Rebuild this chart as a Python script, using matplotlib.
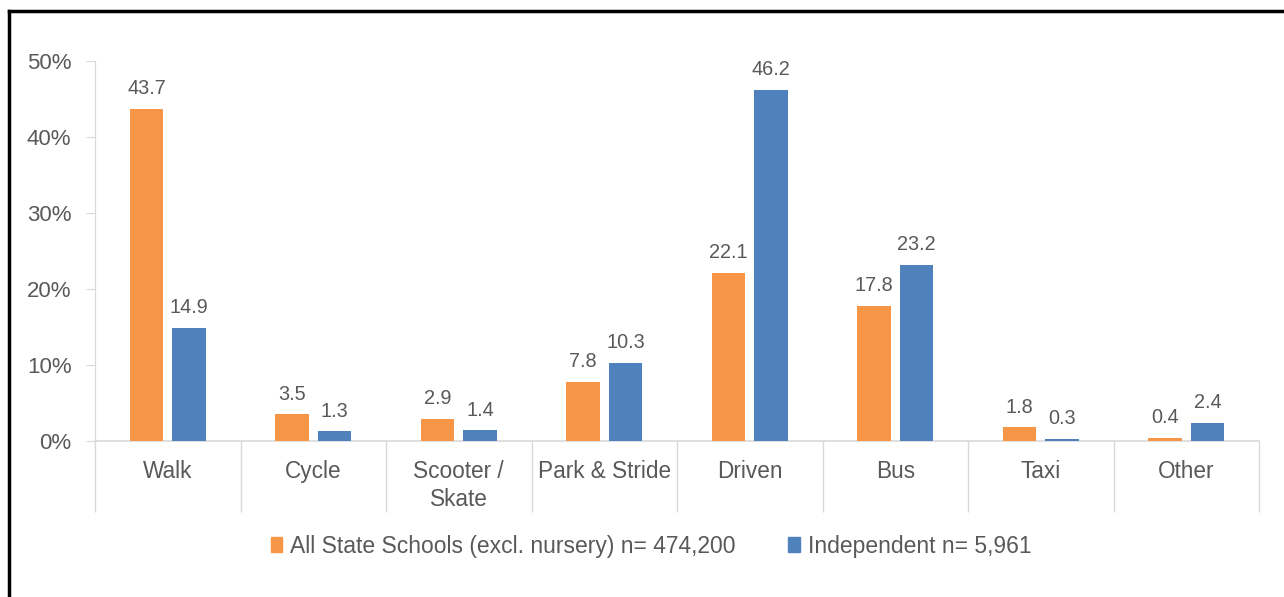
import numpy as np
import matplotlib
matplotlib.use("Agg")
import matplotlib.pyplot as plt
from matplotlib.lines import Line2D
from matplotlib.patches import Patch

plt.rcParams['font.family'] = ['Liberation Sans', 'DejaVu Sans']

# data
categories = ['Walk', 'Cycle', 'Scooter /\nSkate', 'Park & Stride', 'Driven', 'Bus', 'Taxi', 'Other']
state_vals = [43.7, 3.5, 2.9, 7.8, 22.1, 17.8, 1.8, 0.4]
indep_vals = [14.9, 1.3, 1.4, 10.3, 46.2, 23.2, 0.3, 2.4]
series_names = ['All State Schools (excl. nursery) n= 474,200', 'Independent n= 5,961']
yticks = [0, 10, 20, 30, 40, 50]

orange = '#F79646'
blue = '#4F81BD'
txt = '#595959'
grid = '#D9D9D9'

fig = plt.figure(figsize=(12.84, 5.97), dpi=100)
ax = fig.add_axes([95 / 1284, 1 - 441 / 597, (1259 - 95) / 1284, 380 / 597])

x = np.arange(len(categories))
w = 0.228
off = 0.146
b1 = ax.bar(x - off, state_vals, w, color=orange, zorder=3)
b2 = ax.bar(x + off, indep_vals, w, color=blue, zorder=3)

for rects, vals in ((b1, state_vals), (b2, indep_vals)):
    for r, v in zip(rects, vals):
        ax.annotate(f'{v:.1f}', (r.get_x() + r.get_width() / 2, v),
                    xytext=(0, 10.5), textcoords='offset points',
                    ha='center', va='baseline', fontsize=14.3, color=txt)

ax.set_xlim(-0.5, len(categories) - 0.5)
ax.set_ylim(0, 50)
ax.set_yticks(yticks)
ax.set_yticklabels([f'{t}%' for t in yticks], fontsize=16, color=txt)
ax.tick_params(axis='y', length=6.5, color=grid, pad=10.5)

# category separators as long major ticks, labels on minor ticks
ax.set_xticks(np.arange(-0.5, len(categories), 1.0))
ax.set_xticklabels([])
ax.tick_params(axis='x', which='major', length=51, color=grid, width=1)
ax.set_xticks(x, minor=True)
ax.set_xticklabels(categories, minor=True, fontsize=16.3, color=txt, linespacing=1.3)
ax.tick_params(axis='x', which='minor', length=0, pad=13.5)

for s in ['top', 'right']:
    ax.spines[s].set_visible(False)
ax.spines['left'].set_color(grid)
ax.spines['bottom'].set_color(grid)
ax.spines['bottom'].set_linewidth(1.2)

handles = [Patch(color=orange), Patch(color=blue)]
fig.legend(handles, series_names, loc='center', bbox_to_anchor=(651 / 1284, 1 - 546 / 597),
           ncol=2, frameon=False, fontsize=16.5, handlelength=0.5, handleheight=0.6,
           handletextpad=0.35, columnspacing=2.3, labelcolor=txt)

# outer frame (left and top edges visible)
fig.add_artist(Line2D([8.5 / 1284, 8.5 / 1284], [0, 1 - 11 / 597], color='black', lw=2.5,
                      transform=fig.transFigure))
fig.add_artist(Line2D([8.5 / 1284, 1], [1 - 11 / 597, 1 - 11 / 597], color='black', lw=2.5,
                      transform=fig.transFigure))

fig.savefig('out.png', dpi=100)
